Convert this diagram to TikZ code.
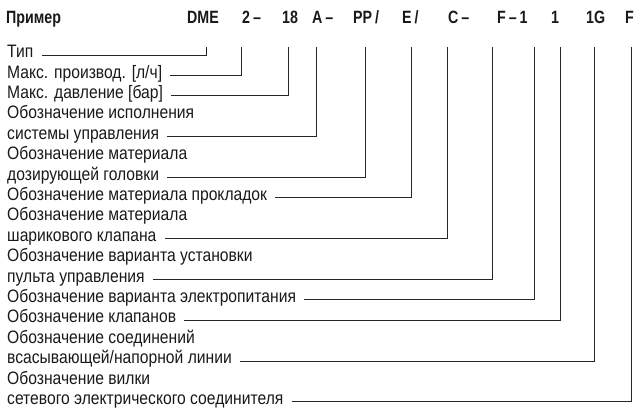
\documentclass[tikz,border=0pt]{standalone}
\usepackage{fontspec}
\setmainfont{Liberation Sans}[FakeStretch=0.87]
\newfontfamily\hdrfont{Liberation Sans}[FakeStretch=0.8]
\begin{document}
\begin{tikzpicture}[x=1pt,y=-1pt,
  lbl/.style={anchor=mid west,inner sep=0pt,font=\fontsize{18}{20}\selectfont,text=black!90},
  hdr/.style={anchor=base west,inner sep=0pt,font=\hdrfont\bfseries\fontsize{17.8}{20}\selectfont,text=black!90},
  lead/.style={line width=0.8pt,draw=black!85}]
\useasboundingbox (0,0) rectangle (635,412);
% header
\node[hdr] (h0) at (6,23.3) {Пример};
\node[hdr] (h1) at (187,23.3) {DME};
\node[hdr] (h2) at (242,23.3) {2\,–};
\node[hdr] (h3) at (282,23.3) {18};
\node[hdr] (h4) at (312,23.3) {A\,–};
\node[hdr] (h5) at (353,23.3) {PP\,/};
\node[hdr] (h6) at (402,23.3) {E\,/};
\node[hdr] (h7) at (448,23.3) {C\,–};
\node[hdr] (h8) at (497,23.3) {F\,–\,1};
\node[hdr] (h9) at (551,23.3) {1};
\node[hdr] (h10) at (586,23.3) {1G};
\node[hdr] (h11) at (625,23.3) {F};
% column tops
\coordinate (v1) at (206,47);
\coordinate (v2) at (241,47);
\coordinate (v3) at (288,47);
\coordinate (v4) at (316,47);
\coordinate (v5) at (365,47);
\coordinate (v6) at (411,47);
\coordinate (v7) at (447,47);
\coordinate (v8) at (492,47);
\coordinate (v9) at (534,47);
\coordinate (v10) at (560,47);
\coordinate (v11) at (594,47);
\coordinate (v12) at (631,47);
% labels
\node[lbl] (t1) at (7,55) {Тип};
\node[lbl] (t2) at (7,75.4) {Макс. производ. [л/ч]};
\node[lbl] (t3) at (7,95.8) {Макс. давление [бар]};
\node[lbl] (t4) at (7,116.2) {Обозначение исполнения};
\node[lbl] (t5) at (7,136.6) {системы управления};
\node[lbl] (t6) at (7,157) {Обозначение материала};
\node[lbl] (t7) at (7,177.4) {дозирующей головки};
\node[lbl] (t8) at (7,197.8) {Обозначение материала прокладок};
\node[lbl] (t9) at (7,218.2) {Обозначение материала};
\node[lbl] (t10) at (7,238.6) {шарикового клапана};
\node[lbl] (t11) at (7,259) {Обозначение варианта установки};
\node[lbl] (t12) at (7,279.4) {пульта управления};
\node[lbl] (t13) at (7,299.8) {Обозначение варианта электропитания};
\node[lbl] (t14) at (7,320.2) {Обозначение клапанов};
\node[lbl] (t15) at (7,340.6) {Обозначение соединений};
\node[lbl] (t16) at (7,361) {всасывающей/напорной линии};
\node[lbl] (t17) at (7,381.4) {Обозначение вилки};
\node[lbl] (t18) at (7,401.8) {сетевого электрического соединителя};
% leaders
\draw[lead] ([xshift=8pt]t1.mid east) -| (v1);
\draw[lead] ([xshift=8pt]t2.mid east) -| (v2);
\draw[lead] ([xshift=8pt]t3.mid east) -| (v3);
\draw[lead] ([xshift=8pt]t5.mid east) -| (v4);
\draw[lead] ([xshift=8pt]t7.mid east) -| (v5);
\draw[lead] ([xshift=8pt]t8.mid east) -| (v6);
\draw[lead] ([xshift=8pt]t10.mid east) -| (v7);
\draw[lead] ([xshift=8pt]t12.mid east) -| (v8);
\draw[lead] ([xshift=8pt]t13.mid east) -| (v9);
\draw[lead] ([xshift=8pt]t14.mid east) -| (v10);
\draw[lead] ([xshift=8pt]t16.mid east) -| (v11);
\draw[lead] ([xshift=8pt]t18.mid east) -| (v12);
\end{tikzpicture}
\end{document}
